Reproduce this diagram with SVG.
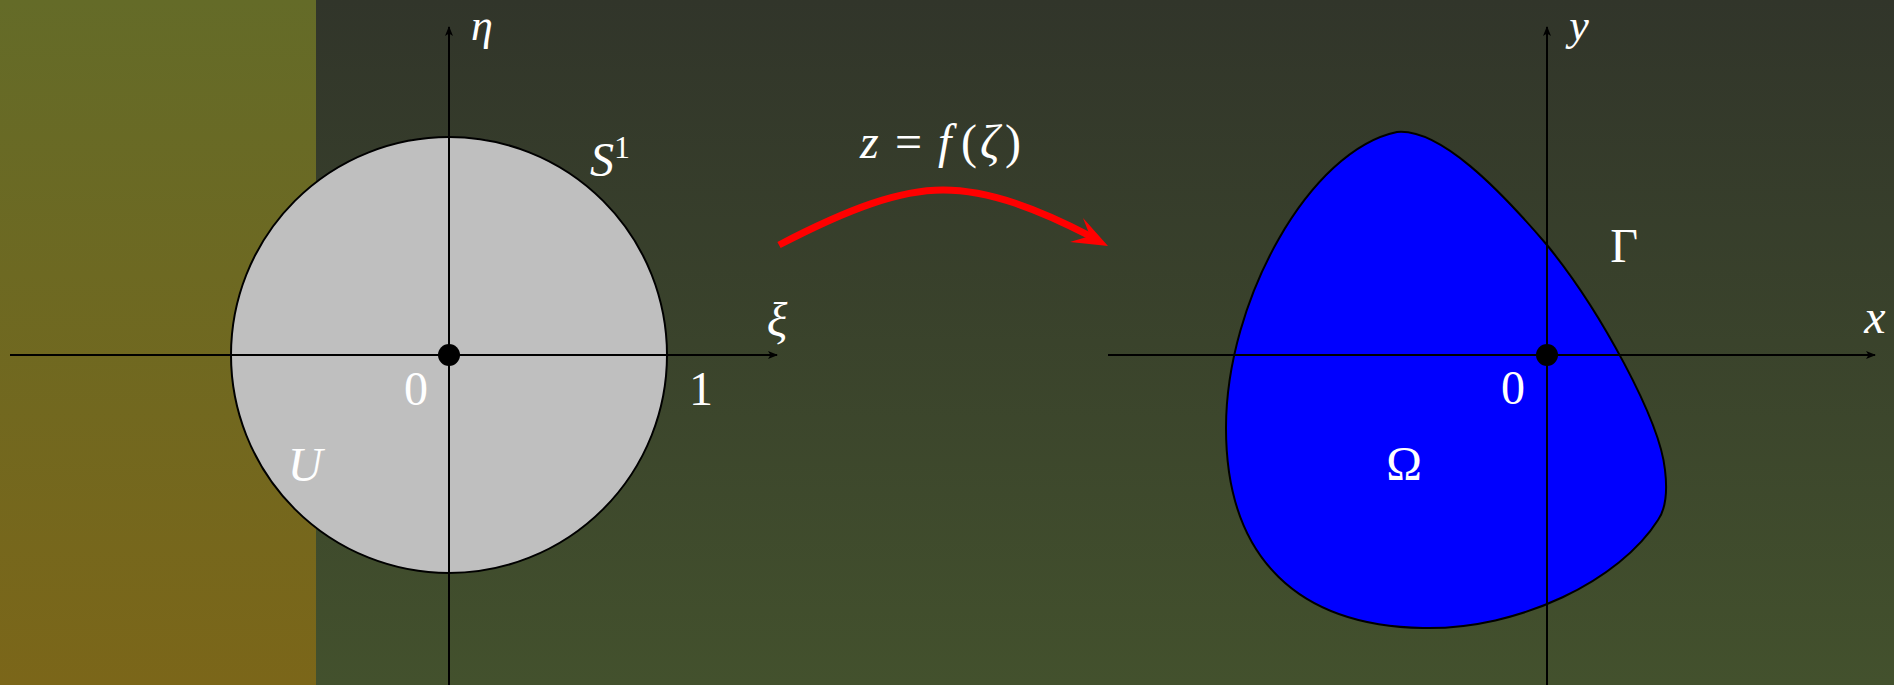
<svg xmlns="http://www.w3.org/2000/svg" width="1894" height="685" viewBox="0 0 1894 685">
<defs>
<linearGradient id="bgL" x1="0" y1="0" x2="0" y2="1">
<stop offset="0" stop-color="#646b28"/>
<stop offset="1" stop-color="#7b6619"/>
</linearGradient>
<linearGradient id="bgR" x1="0" y1="0" x2="0" y2="1">
<stop offset="0" stop-color="#31352a"/>
<stop offset="1" stop-color="#43512d"/>
</linearGradient>
<marker id="ax" viewBox="0 0 10 10" refX="9" refY="5" markerWidth="10" markerHeight="10" markerUnits="userSpaceOnUse" orient="auto">
<path d="M0,1 L10,5 L0,9 L2.5,5 Z" fill="#000"/>
</marker>
</defs>
<style>
.axis{stroke:#000;stroke-width:2;fill:none}
.m{font-family:"Liberation Serif","DejaVu Serif",serif;font-style:italic;fill:#fff;font-size:48px}
.r{font-family:"Liberation Serif","DejaVu Serif",serif;font-style:normal;fill:#fff;font-size:48px}
</style>
<rect x="0" y="0" width="1894" height="685" fill="url(#bgR)"/>
<rect x="0" y="0" width="316" height="685" fill="url(#bgL)"/>

<g id="disk">
<circle cx="449" cy="355" r="218" fill="#bfbfbf" stroke="#000" stroke-width="2"/>
</g>
<g id="domain">
<path d="M1397,132 C1440,128 1500,190 1547,245 C1600,310 1660,420 1665,470 C1668,495 1665,510 1658,520 C1620,580 1520,630 1423,628 C1300,626 1226,560 1226,428 C1226,300 1310,150 1397,132 Z" fill="#0000ff" stroke="#000" stroke-width="2"/>
</g>

<g id="connectors">
<line class="axis" x1="10" y1="355" x2="777" y2="355" marker-end="url(#ax)"/>
<line class="axis" x1="449" y1="685" x2="449" y2="27" marker-end="url(#ax)"/>
<line class="axis" x1="1108" y1="355" x2="1875" y2="355" marker-end="url(#ax)"/>
<line class="axis" x1="1547" y1="685" x2="1547" y2="27" marker-end="url(#ax)"/>
<path d="M779,245 C850,208 900,190 943,190 C990,190 1040,210 1090,236" fill="none" stroke="#ff0000" stroke-width="7"/>
<path d="M1108,246 L1083,218 L1090,236 L1070,242 Z" fill="#ff0000"/>
</g>

<g id="origin-left"><circle cx="449" cy="355" r="11" fill="#000"/></g>
<g id="origin-right"><circle cx="1547" cy="355" r="11" fill="#000"/></g>

<g id="labels">
<text class="m" x="482" y="40" text-anchor="middle" style="font-size:44px">η</text>
<text class="m" x="777" y="336" text-anchor="middle">ξ</text>
<text class="m" x="590" y="176">S<tspan dy="-18" style="font-style:normal;font-size:32px">1</tspan></text>
<text class="r" x="416" y="405" text-anchor="middle">0</text>
<text class="r" x="701" y="405" text-anchor="middle">1</text>
<text class="m" x="305" y="481" text-anchor="middle">U</text>
<text class="m" y="158"><tspan x="860">z</tspan><tspan x="895" style="font-style:normal">=</tspan><tspan x="938">f</tspan><tspan x="961" style="font-style:normal">(</tspan><tspan x="980">ζ</tspan><tspan x="1005" style="font-style:normal">)</tspan></text>
<text class="m" x="1579" y="40" text-anchor="middle" style="font-size:44px">y</text>
<text class="m" x="1875" y="333" text-anchor="middle">x</text>
<text class="r" x="1624" y="262" text-anchor="middle">Γ</text>
<text class="r" x="1513" y="404" text-anchor="middle">0</text>
<text class="r" x="1404" y="480" text-anchor="middle">Ω</text>
</g>
</svg>
